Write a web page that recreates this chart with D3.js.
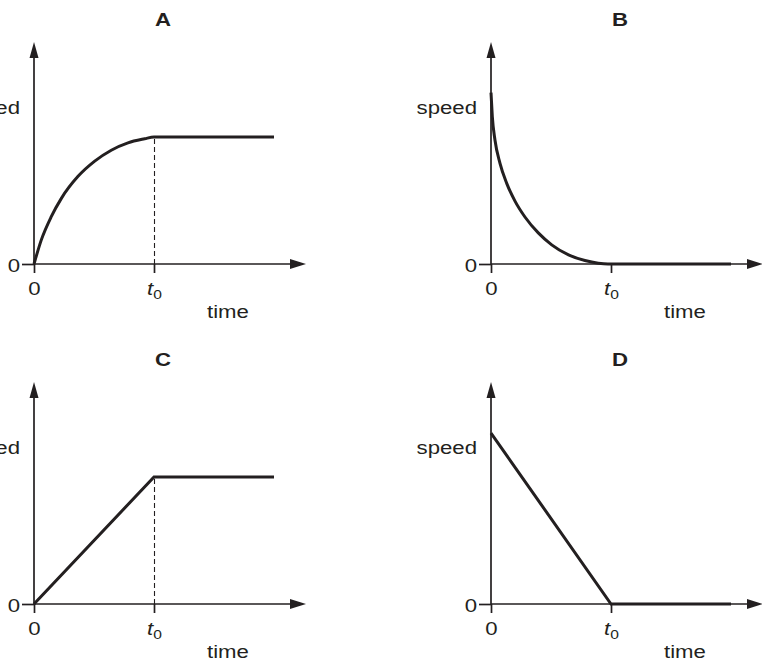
<!DOCTYPE html>
<html>
<head>
<meta charset="utf-8">
<script src="https://cdn.jsdelivr.net/npm/d3@7"></script>
<style>
  html, body { margin: 0; padding: 0; background: #ffffff; }
  svg { display: block; }
  text { font-family: "Liberation Sans", Arial, Helvetica, sans-serif; fill: #231f20; }
</style>
</head>
<body>
<svg id="chart" width="762" height="658"></svg>
<script>
// ---------------- data ----------------
const panelLabels = ["A", "B", "C", "D"];
const xTickValues = [0, 1];          // 0 and t0 (time units, t0 = 1)
const xTickLabels = ["0", "t0"];
const yTickValues = [0];
const yTickLabels = ["0"];
const yAxisTitle = "speed";
const xAxisTitle = "time";

// A: rising curve that levels off at t0
const timeA  = [0, 0.061, 0.144, 0.228, 0.367, 0.506, 0.644, 0.783, 0.922, 1, 2];
const speedA = [0, 0.19, 0.373, 0.517, 0.69, 0.81, 0.896, 0.954, 0.986, 1, 1];
// B: decaying curve that reaches zero at t0
const timeB  = [0, 0.011, 0.033, 0.075, 0.131, 0.2, 0.283, 0.394, 0.506, 0.646, 0.783, 0.894, 0.975, 2];
const speedB = [1.35, 1.16, 0.976, 0.793, 0.635, 0.495, 0.37, 0.245, 0.151, 0.072, 0.027, 0.006, 0, 0];
// C: linear rise then constant
const timeC  = [0, 1, 2];
const speedC = [0, 1, 1];
// D: linear fall to zero then zero
const timeD  = [0, 1, 2];
const speedD = [1.346, 0, 0];

const panelTimes  = [timeA, timeB, timeC, timeD];
const panelSpeeds = [speedA, speedB, speedC, speedD];
const panelSmooth = [true, true, false, false];
const panelDashed = [true, false, true, false];

// ---------------- layout ----------------
const INK = "#231f20";
const S = 1.2;          // horizontal text stretch
const FS = 18.5;
const colX = [34, 491];
const rowY = [264, 604];
const unitX = 120;      // px per time unit
const unitY = 127;      // px per speed unit

const svg = d3.select("#chart");

function stretchText(sel, x, y) {
  sel.attr("transform", `translate(${x},${y}) scale(${S},1)`);
  return sel;
}

panelLabels.forEach((lab, i) => {
  const ox = colX[i % 2];
  const oy = rowY[Math.floor(i / 2)];
  const x = d3.scaleLinear().domain([0, 2]).range([ox, ox + 2 * unitX]);
  const y = d3.scaleLinear().domain([0, 1]).range([oy, oy - unitY]);
  const g = svg.append("g");

  // axes lines with arrowheads
  const yTop = oy - 222, yArrowLen = 16, arrowHalf = 5;
  const xRight = ox + 272;
  g.append("line").attr("x1", ox).attr("x2", ox).attr("y1", oy).attr("y2", yTop + yArrowLen)
    .attr("stroke", INK).attr("stroke-width", 1.7);
  g.append("path")
    .attr("d", `M${ox},${yTop} L${ox - arrowHalf + 0.5},${yTop + yArrowLen} L${ox + arrowHalf - 0.5},${yTop + yArrowLen} Z`)
    .attr("fill", INK);
  g.append("line").attr("x1", ox).attr("x2", xRight - yArrowLen).attr("y1", oy).attr("y2", oy)
    .attr("stroke", INK).attr("stroke-width", 1.7);
  g.append("path")
    .attr("d", `M${xRight},${oy} L${xRight - yArrowLen},${oy - arrowHalf} L${xRight - yArrowLen},${oy + arrowHalf} Z`)
    .attr("fill", INK);

  // x axis ticks (d3 axis)
  const xAxis = d3.axisBottom(x).tickValues(xTickValues).tickSize(9).tickPadding(9)
    .tickSizeOuter(0).tickFormat((d, k) => xTickLabels[k]);
  const gx = g.append("g").attr("transform", `translate(0,${oy})`).call(xAxis);
  gx.select(".domain").remove();
  gx.selectAll(".tick line").attr("stroke", INK).attr("stroke-width", 1.7);
  gx.selectAll(".tick text").each(function (d, k) {
    const t = d3.select(this);
    t.attr("font-size", FS).attr("font-family", null).attr("fill", INK)
     .attr("transform", `scale(${S},1)`);
    if (xTickLabels[k] === "t0") {
      t.text(null);
      t.append("tspan").attr("font-style", "italic").text("t");
      t.append("tspan").attr("font-size", 13).attr("dy", 4).text("0");
    }
  });

  // y axis tick (d3 axis)
  const yAxis = d3.axisLeft(y).tickValues(yTickValues).tickSize(12).tickPadding(2)
    .tickSizeOuter(0).tickFormat((d, k) => yTickLabels[k]);
  const gy = g.append("g").attr("transform", `translate(${ox},0)`).call(yAxis);
  gy.select(".domain").remove();
  gy.selectAll(".tick line").attr("stroke", INK).attr("stroke-width", 1.7);
  gy.selectAll(".tick text").attr("font-size", FS).attr("font-family", null).attr("fill", INK)
    .attr("x", -14 / S).attr("dy", "0.38em").attr("transform", `scale(${S},1)`);

  // dashed guide at t0
  if (panelDashed[i]) {
    g.append("line").attr("x1", x(1) + 0.5).attr("x2", x(1) + 0.5).attr("y1", y(0)).attr("y2", y(1))
      .attr("stroke", INK).attr("stroke-width", 1.1).attr("stroke-dasharray", "5,3");
  }

  // data line
  const pts = panelTimes[i].map((t, k) => [t, panelSpeeds[i][k]]);
  const line = d3.line().x(d => x(d[0])).y(d => y(d[1]))
    .curve(panelSmooth[i] ? d3.curveMonotoneX : d3.curveLinear);
  g.append("path").datum(pts).attr("d", line).attr("fill", "none")
    .attr("stroke", INK).attr("stroke-width", 3).attr("stroke-linejoin", "miter");

  // titles & axis labels
  stretchText(g.append("text").attr("text-anchor", "middle").attr("font-weight", "bold")
    .attr("font-size", FS).text(lab), ox + 129, oy - 238);
  stretchText(g.append("text").attr("text-anchor", "end").attr("font-size", FS).text(yAxisTitle), ox - 14, oy - 150);
  stretchText(g.append("text").attr("text-anchor", "start").attr("font-size", FS).text(xAxisTitle), ox + 173, oy + 54);
});
</script>
</body>
</html>
